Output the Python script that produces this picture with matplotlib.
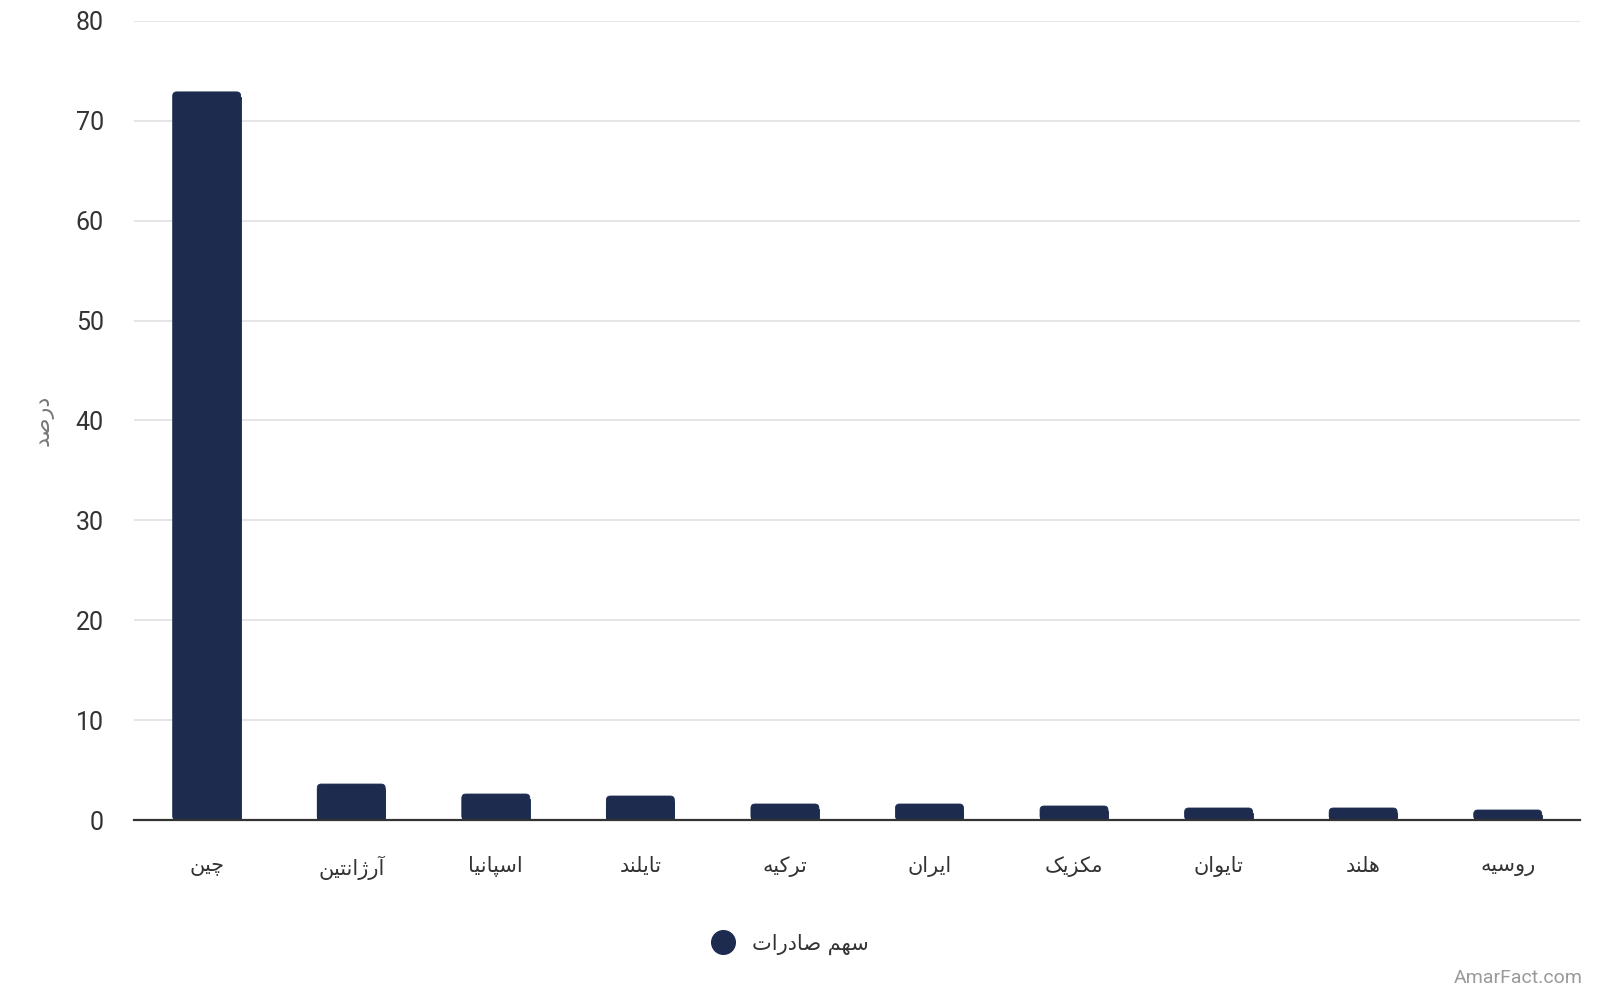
import matplotlib
matplotlib.use("Agg")
import matplotlib.pyplot as plt
from matplotlib.lines import Line2D
from matplotlib.patches import FancyBboxPatch

# ---- data ----
categories = ["چین", "آرژانتین", "اسپانیا", "تایلند", "ترکیه", "ایران", "مکزیک", "تایوان", "هلند", "روسیه"]
values = [72.9, 3.6, 2.6, 2.4, 1.6, 1.6, 1.4, 1.2, 1.2, 1.0]
series_name = "سهم صادرات"
y_label = "درصد"
y_ticks = [0, 10, 20, 30, 40, 50, 60, 70, 80]
watermark = "AmarFact.com"

# ---- minimal Arabic/Persian shaping for display ----
FORMS = {  # isolated, final, initial, medial
    "\u0627": ("\uFE8D", "\uFE8E", None, None),
    "\u0622": ("\uFE81", "\uFE82", None, None),
    "\u0628": ("\uFE8F", "\uFE90", "\uFE91", "\uFE92"),
    "\u062A": ("\uFE95", "\uFE96", "\uFE97", "\uFE98"),
    "\u067E": ("\uFB56", "\uFB57", "\uFB58", "\uFB59"),
    "\u0686": ("\uFB7A", "\uFB7B", "\uFB7C", "\uFB7D"),
    "\u062F": ("\uFEA9", "\uFEAA", None, None),
    "\u0631": ("\uFEAD", "\uFEAE", None, None),
    "\u0632": ("\uFEAF", "\uFEB0", None, None),
    "\u0698": ("\uFB8A", "\uFB8B", None, None),
    "\u0633": ("\uFEB1", "\uFEB2", "\uFEB3", "\uFEB4"),
    "\u0635": ("\uFEB9", "\uFEBA", "\uFEBB", "\uFEBC"),
    "\u06A9": ("\uFB8E", "\uFB8F", "\uFB90", "\uFB91"),
    "\u0644": ("\uFEDD", "\uFEDE", "\uFEDF", "\uFEE0"),
    "\u0645": ("\uFEE1", "\uFEE2", "\uFEE3", "\uFEE4"),
    "\u0646": ("\uFEE5", "\uFEE6", "\uFEE7", "\uFEE8"),
    "\u0647": ("\uFEE9", "\uFEEA", "\uFEEB", "\uFEEC"),
    "\u0648": ("\uFEED", "\uFEEE", None, None),
    "\u06CC": ("\uFBFC", "\uFBFD", "\uFBFE", "\uFBFF"),
}


def joins_next(ch):
    return ch in FORMS and FORMS[ch][2] is not None


def shape(text):
    out = []
    n = len(text)
    for i, ch in enumerate(text):
        if ch not in FORMS:
            out.append(ch)
            continue
        prev_j = i > 0 and joins_next(text[i - 1])
        next_j = i < n - 1 and text[i + 1] in FORMS and joins_next(ch)
        iso, fin, ini, med = FORMS[ch]
        if prev_j and next_j:
            out.append(med)
        elif prev_j:
            out.append(fin)
        elif next_j:
            out.append(ini)
        else:
            out.append(iso)
    return "".join(out)[::-1]


FAM = ["Roboto", "DejaVu Sans"]
plt.rcParams["font.family"] = FAM

BAR = "#1c2b4e"
TXT = "#333333"

fig = plt.figure(figsize=(16, 10), dpi=100)
ax = fig.add_axes([0.084, 0.18, 0.9035, 0.799])

x = list(range(len(categories)))
bars = ax.bar(x, values, width=0.47, color=BAR, edgecolor=BAR, linewidth=0.6, zorder=3)

ax.set_xlim(-0.5, len(categories) - 0.5)
ax.set_ylim(0, 80)

# rounded top corners (radius ~4 px) built from the bar geometry
rad_x = 4 * (len(categories)) / (0.9035 * 1600)
rad_y = 4 * 80 / (0.799 * 1000)
for r in bars:
    bx, by, bw, bh = r.get_x(), r.get_y(), r.get_width(), r.get_height()
    ax.add_patch(FancyBboxPatch((bx, by), bw, bh,
                                boxstyle=f"round,pad=0,rounding_size={rad_x}",
                                mutation_aspect=rad_y / rad_x,
                                facecolor=BAR, edgecolor=BAR, linewidth=0.6, zorder=3))
    r.set_height(bh - rad_y * 1.2)

ax.set_yticks(y_ticks)
ax.set_yticklabels([str(t) for t in y_ticks], fontsize=18, color=TXT)
ax.set_xticks(x)
ax.set_xticklabels([shape(c) for c in categories], fontsize=15, color=TXT, family="DejaVu Sans")
ax.tick_params(axis="both", length=0)
ax.tick_params(axis="y", pad=22)
ax.tick_params(axis="x", pad=26)

ax.grid(axis="y", color="#e3e3e3", linewidth=1.3, zorder=0)
ax.grid(axis="x", visible=False)
for s in ["top", "right", "left"]:
    ax.spines[s].set_visible(False)
ax.spines["bottom"].set_color("#333333")
ax.spines["bottom"].set_linewidth(1.6)
ax.spines["bottom"].set_zorder(4)

fig.text(0.027, 0.58, shape(y_label), rotation=90, fontsize=16, color="#777777",
         ha="center", va="center", family="DejaVu Sans")

handle = Line2D([], [], marker="o", linestyle="none", markersize=17,
                markerfacecolor=BAR, markeredgecolor=BAR)
fig.legend([handle], [shape(series_name)], loc="center", bbox_to_anchor=(0.491, 0.056),
           frameon=False, prop={"family": "DejaVu Sans", "size": 15},
           handletextpad=0.4, labelcolor=TXT)

fig.text(0.989, 0.013, watermark, ha="right", va="bottom", fontsize=14, color="#9a9a9a")

fig.savefig("out.png", dpi=100, facecolor="white")
